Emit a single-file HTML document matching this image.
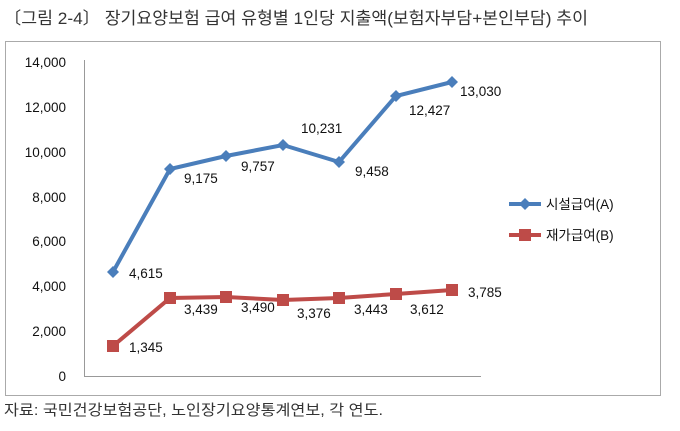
<!DOCTYPE html>
<html><head><meta charset="utf-8"><style>
body{margin:0;background:#fff;width:680px;height:426px;overflow:hidden}
svg text{font-family:"Liberation Sans","Noto Sans CJK KR",sans-serif}
</style></head><body>
<svg width="680" height="426" viewBox="0 0 680 426">
<text x="4" y="24" font-size="17" fill="#333" textLength="584" lengthAdjust="spacingAndGlyphs">〔그림 2-4〕 장기요양보험 급여 유형별 1인당 지출액(보험자부담+본인부담) 추이</text>
<rect x="5.5" y="41.5" width="655" height="354" fill="none" stroke="#aaa" stroke-width="1"/>
<line x1="84.5" y1="60" x2="84.5" y2="376" stroke="#999"/>
<line x1="84" y1="376.5" x2="481" y2="376.5" stroke="#999"/>
<g font-size="13.5" fill="#111" text-anchor="end">
<text x="66" y="67">14,000</text><text x="66" y="112">12,000</text><text x="66" y="157">10,000</text>
<text x="66" y="202">8,000</text><text x="66" y="246">6,000</text><text x="66" y="291">4,000</text>
<text x="66" y="336">2,000</text><text x="66" y="381">0</text>
</g>
<polyline fill="none" stroke="#4a7ebb" stroke-width="4" points="113,272 170,169 226,156 283,145 339,162 396,96 452,82"/>
<g fill="#4a7ebb">
<path d="M113,266 l6,6 -6,6 -6,-6z"/><path d="M170,163 l6,6 -6,6 -6,-6z"/><path d="M226,150 l6,6 -6,6 -6,-6z"/>
<path d="M283,139 l6,6 -6,6 -6,-6z"/><path d="M339,156 l6,6 -6,6 -6,-6z"/><path d="M396,90 l6,6 -6,6 -6,-6z"/><path d="M452,76 l6,6 -6,6 -6,-6z"/>
</g>
<polyline fill="none" stroke="#be4b48" stroke-width="4" points="113,346 170,298 226,297 283,300 339,298 396,294 452,290"/>
<g fill="#be4b48">
<rect x="107" y="340" width="12" height="12"/><rect x="164" y="292" width="12" height="12"/><rect x="220" y="291" width="12" height="12"/>
<rect x="277" y="294" width="12" height="12"/><rect x="333" y="292" width="12" height="12"/><rect x="390" y="288" width="12" height="12"/><rect x="446" y="284" width="12" height="12"/>
</g>
<g font-size="13.5" fill="#111">
<text x="129" y="278">4,615</text><text x="184" y="183">9,175</text><text x="241" y="171">9,757</text>
<text x="301" y="133">10,231</text><text x="355" y="176">9,458</text><text x="409" y="115">12,427</text><text x="460" y="96">13,030</text>
<text x="129" y="352">1,345</text><text x="184" y="314">3,439</text><text x="241" y="312">3,490</text>
<text x="297" y="318">3,376</text><text x="354" y="314">3,443</text><text x="410" y="314">3,612</text><text x="468" y="297">3,785</text>
</g>
<line x1="509" y1="204" x2="541" y2="204" stroke="#4a7ebb" stroke-width="4"/>
<path d="M525,198 l6,6 -6,6 -6,-6z" fill="#4a7ebb"/>
<text x="546" y="209" font-size="13.5" fill="#111">시설급여(A)</text>
<line x1="509" y1="235" x2="541" y2="235" stroke="#be4b48" stroke-width="4"/>
<rect x="519" y="229" width="12" height="12" fill="#be4b48"/>
<text x="546" y="240" font-size="13.5" fill="#111">재가급여(B)</text>
<text x="4" y="415" font-size="15" fill="#333" textLength="379" lengthAdjust="spacingAndGlyphs">자료: 국민건강보험공단, 노인장기요양통계연보, 각 연도.</text>
</svg>
</body></html>
